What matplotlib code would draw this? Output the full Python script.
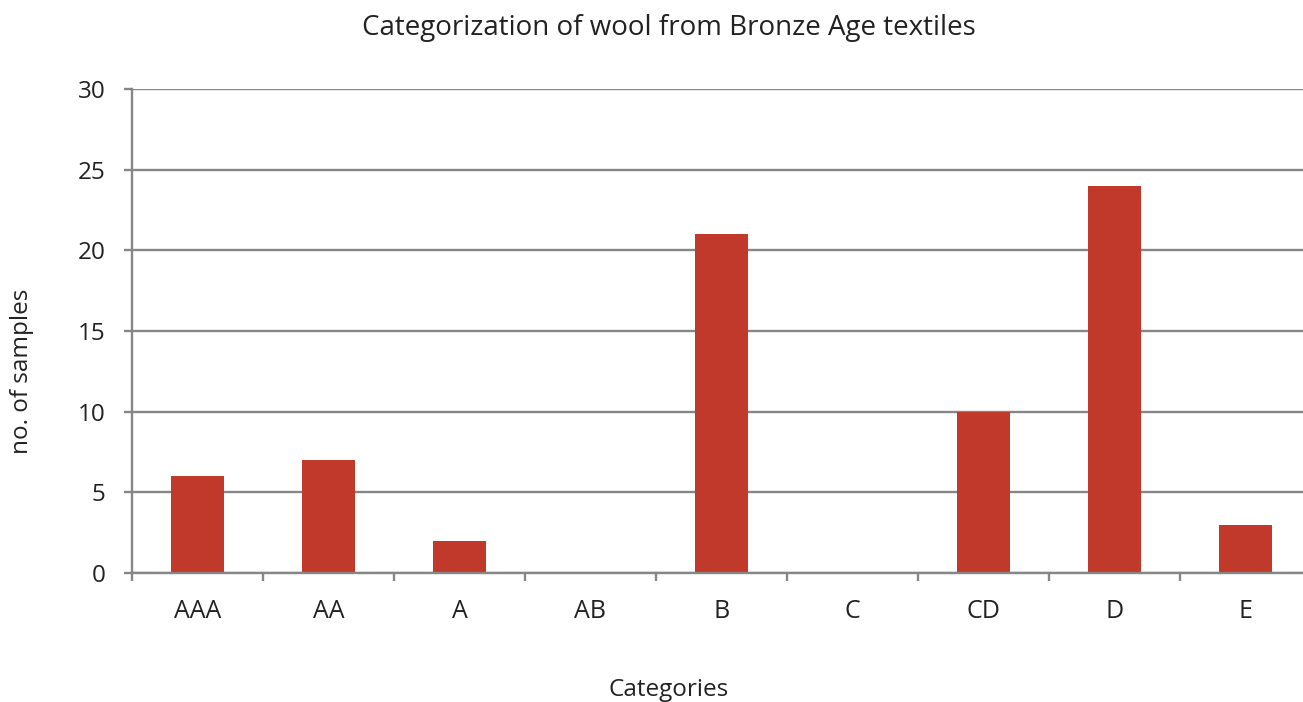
import matplotlib
matplotlib.use("Agg")
import matplotlib.pyplot as plt
import numpy as np

categories = ["AAA", "AA", "A", "AB", "B", "C", "CD", "D", "E"]
samples = [6, 7, 2, 0, 21, 0, 10, 24, 3]
y_ticks = [0, 5, 10, 15, 20, 25, 30]

BAR_COLOR = "#C0392A"
GRID_COLOR = "#868686"
TEXT_COLOR = "#222222"

plt.rcParams["font.family"] = ["Open Sans", "DejaVu Sans"]

W, H = 1303, 702
fig = plt.figure(figsize=(W / 100, H / 100), dpi=100)
ax = fig.add_axes([132 / W, (H - 573) / H, (1311 - 132) / W, (573 - 89) / H])

x = np.arange(len(categories))
ax.bar(x, samples, width=0.4, color=BAR_COLOR, zorder=3)

ax.set_xlim(-0.5, len(categories) - 0.5)
ax.set_ylim(0, 30)
ax.set_yticks(y_ticks)
ax.set_xticks(x)
ax.set_xticklabels(categories)
ax.set_xticks(np.arange(-0.5, len(categories)), minor=True)

ax.yaxis.grid(True, color=GRID_COLOR, linewidth=1.7, zorder=1)
ax.set_axisbelow(True)
for side in ("top", "right"):
    ax.spines[side].set_visible(False)
for side in ("left", "bottom"):
    ax.spines[side].set_color(GRID_COLOR)
    ax.spines[side].set_linewidth(1.7)
    ax.spines[side].set_zorder(4)

ax.tick_params(axis="x", which="major", length=0, pad=19, labelsize=18,
               colors=TEXT_COLOR)
ax.tick_params(axis="x", which="minor", length=6, width=1.7, color=GRID_COLOR)
ax.tick_params(axis="y", length=6, width=1.7, color=GRID_COLOR, pad=13,
               labelsize=17.5, labelcolor=TEXT_COLOR)

fig.text(669 / W, 1 - 28 / H, "Categorization of wool from Bronze Age textiles",
         ha="center", va="center", fontsize=20, color=TEXT_COLOR)
fig.text(669 / W, 1 - 690 / H, "Categories", ha="center", va="center",
         fontsize=17.5, color=TEXT_COLOR)
fig.text(22 / W, 1 - 371 / H, "no. of samples", ha="center", va="center",
         rotation=90, fontsize=17.5, color=TEXT_COLOR)

fig.savefig("out.png", dpi=100)
